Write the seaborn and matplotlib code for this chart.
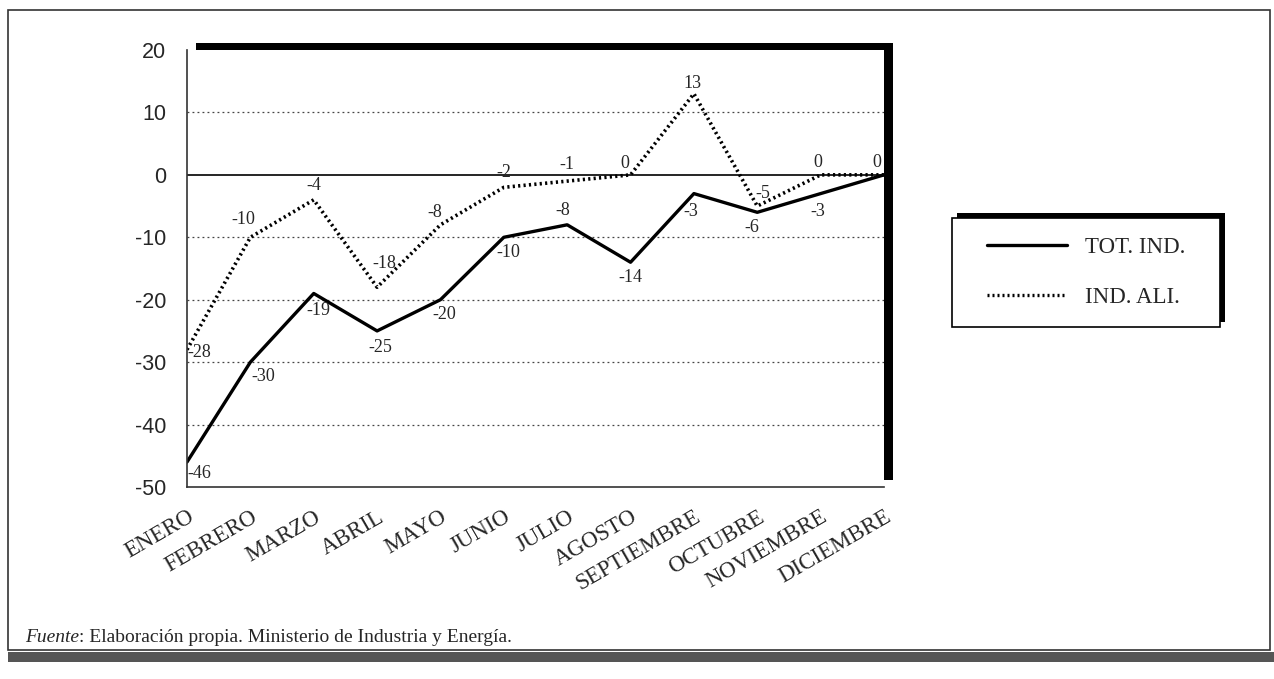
import pandas as pd
import matplotlib.pyplot as plt
import seaborn as sns
from matplotlib.patches import Rectangle
from matplotlib.lines import Line2D

meses = ["ENERO", "FEBRERO", "MARZO", "ABRIL", "MAYO", "JUNIO", "JULIO",
         "AGOSTO", "SEPTIEMBRE", "OCTUBRE", "NOVIEMBRE", "DICIEMBRE"]
tot_ind = [-46, -30, -19, -25, -20, -10, -8, -14, -3, -6, -3, 0]
ind_ali = [-28, -10, -4, -18, -8, -2, -1, 0, 13, -5, 0, 0]

# label offsets in points (dx, dy), only for placing the numbers
off_tot = [(9, -8), (9, -10), (3, -12), (2, -12), (3, -11), (3, -11),
           (-3, 10), (0, -11), (-2, -13), (-4, -11), (-2, -13), None]
off_ali = [(9, -2), (-5, 13), (0, 10), (5, 17), (-4, 9), (0, 11),
           (0, 12), (-4, 8), (-1, 7), (4, 9), (-2, 9), (-5, 9)]

df = pd.DataFrame({"x": range(len(meses)), "tot": tot_ind, "ali": ind_ali})

sns.set_style("white")
plt.rcParams["font.family"] = ["Liberation Serif", "DejaVu Serif"]
plt.rcParams["axes.unicode_minus"] = False

W, H = 1274, 679
fig = plt.figure(figsize=(W / 100, H / 100), dpi=100)

# outer frame of the page figure
fig.patches.append(Rectangle((8 / W, 1 - 650 / H), 1262 / W, 640 / H,
                             transform=fig.transFigure, fill=False,
                             edgecolor="#333333", lw=1.2, zorder=-2))
fig.patches.append(Rectangle((8 / W, 1 - 662 / H), 1266 / W, 10 / H,
                             transform=fig.transFigure, facecolor="#555555",
                             edgecolor="none", zorder=-2))

left, right, top, bottom = 187, 884, 50, 487
ax = fig.add_axes([left / W, 1 - bottom / H, (right - left) / W, (bottom - top) / H])

# thick black shadow behind the plot area (shows top and right)
fig.patches.append(Rectangle(((left + 9) / W, 1 - (bottom - 7) / H),
                             (right - left) / W, (bottom - top) / H,
                             transform=fig.transFigure, facecolor="black",
                             edgecolor="none", zorder=-1))
ax.set_facecolor("white")

sns.lineplot(data=df, x="x", y="tot", ax=ax, color="black", lw=2.4)
sns.lineplot(data=df, x="x", y="ali", ax=ax, color="black", lw=2.6,
             linestyle=(0, (0.6, 0.9)))

ax.axhline(0, color="black", lw=1.2, zorder=1)
for g in [10, -10, -20, -30, -40]:
    ax.axhline(g, color="#444444", lw=0.9, ls=(0, (1.5, 2.5)), zorder=0)

for i, v in enumerate(tot_ind):
    if off_tot[i] is None:
        continue
    ax.annotate(str(v), (i, v), xytext=off_tot[i], textcoords="offset points",
                ha="center", va="center", fontsize=13)
for i, v in enumerate(ind_ali):
    ax.annotate(str(v), (i, v), xytext=off_ali[i], textcoords="offset points",
                ha="center", va="center", fontsize=13)

ax.set_xlim(0, 11)
ax.set_ylim(-50, 20)
ax.set_yticks(range(-50, 21, 10))
ax.set_xticks(range(len(meses)))
ax.set_xticklabels(meses, rotation=30, ha="right", rotation_mode="anchor")
ax.set_xlabel("")
ax.set_ylabel("")
ax.tick_params(axis="both", direction="out", length=10, width=1.2, color="#333333")
ax.tick_params(axis="y", labelsize=15.5, pad=5)
ax.tick_params(axis="x", labelsize=16.5, pad=4)
for lab in ax.get_yticklabels():
    lab.set_fontfamily(["Liberation Sans", "DejaVu Sans"])
for s in ["top", "right"]:
    ax.spines[s].set_visible(False)
for s in ["left", "bottom"]:
    ax.spines[s].set_color("#333333")
    ax.spines[s].set_linewidth(1.2)

# legend box with shadow
lx0, ly0, lx1, ly1 = 952, 218, 1220, 327
fig.patches.append(Rectangle(((lx0 + 5) / W, 1 - (ly1 - 5) / H),
                             (lx1 - lx0) / W, (ly1 - ly0) / H,
                             transform=fig.transFigure, facecolor="black",
                             edgecolor="none", zorder=1))
fig.patches.append(Rectangle((lx0 / W, 1 - ly1 / H), (lx1 - lx0) / W, (ly1 - ly0) / H,
                             transform=fig.transFigure, facecolor="white",
                             edgecolor="black", lw=1.2, zorder=2))
handles = [Line2D([], [], color="black", lw=2.4),
           Line2D([], [], color="black", lw=2.4, linestyle=(0, (0.6, 0.9)))]
leg = fig.legend(handles, ["TOT. IND.", "IND. ALI."], loc="center",
                 bbox_to_anchor=((lx0 + lx1) / 2 / W, 1 - (ly0 + ly1) / 2 / H),
                 frameon=False, fontsize=16.5, handlelength=3.5, handletextpad=0.8,
                 labelspacing=1.25)
leg.set_zorder(3)

cap = fig.text(25 / W, 1 - 638 / H, "Fuente", fontsize=14, style="italic", va="center")
fig.canvas.draw()
bb = cap.get_window_extent()
fig.text(bb.x1 / W, 1 - 638 / H, ": Elaboración propia. Ministerio de Industria y Energía.",
         fontsize=14, va="center")

fig.savefig("out.png", dpi=100)
